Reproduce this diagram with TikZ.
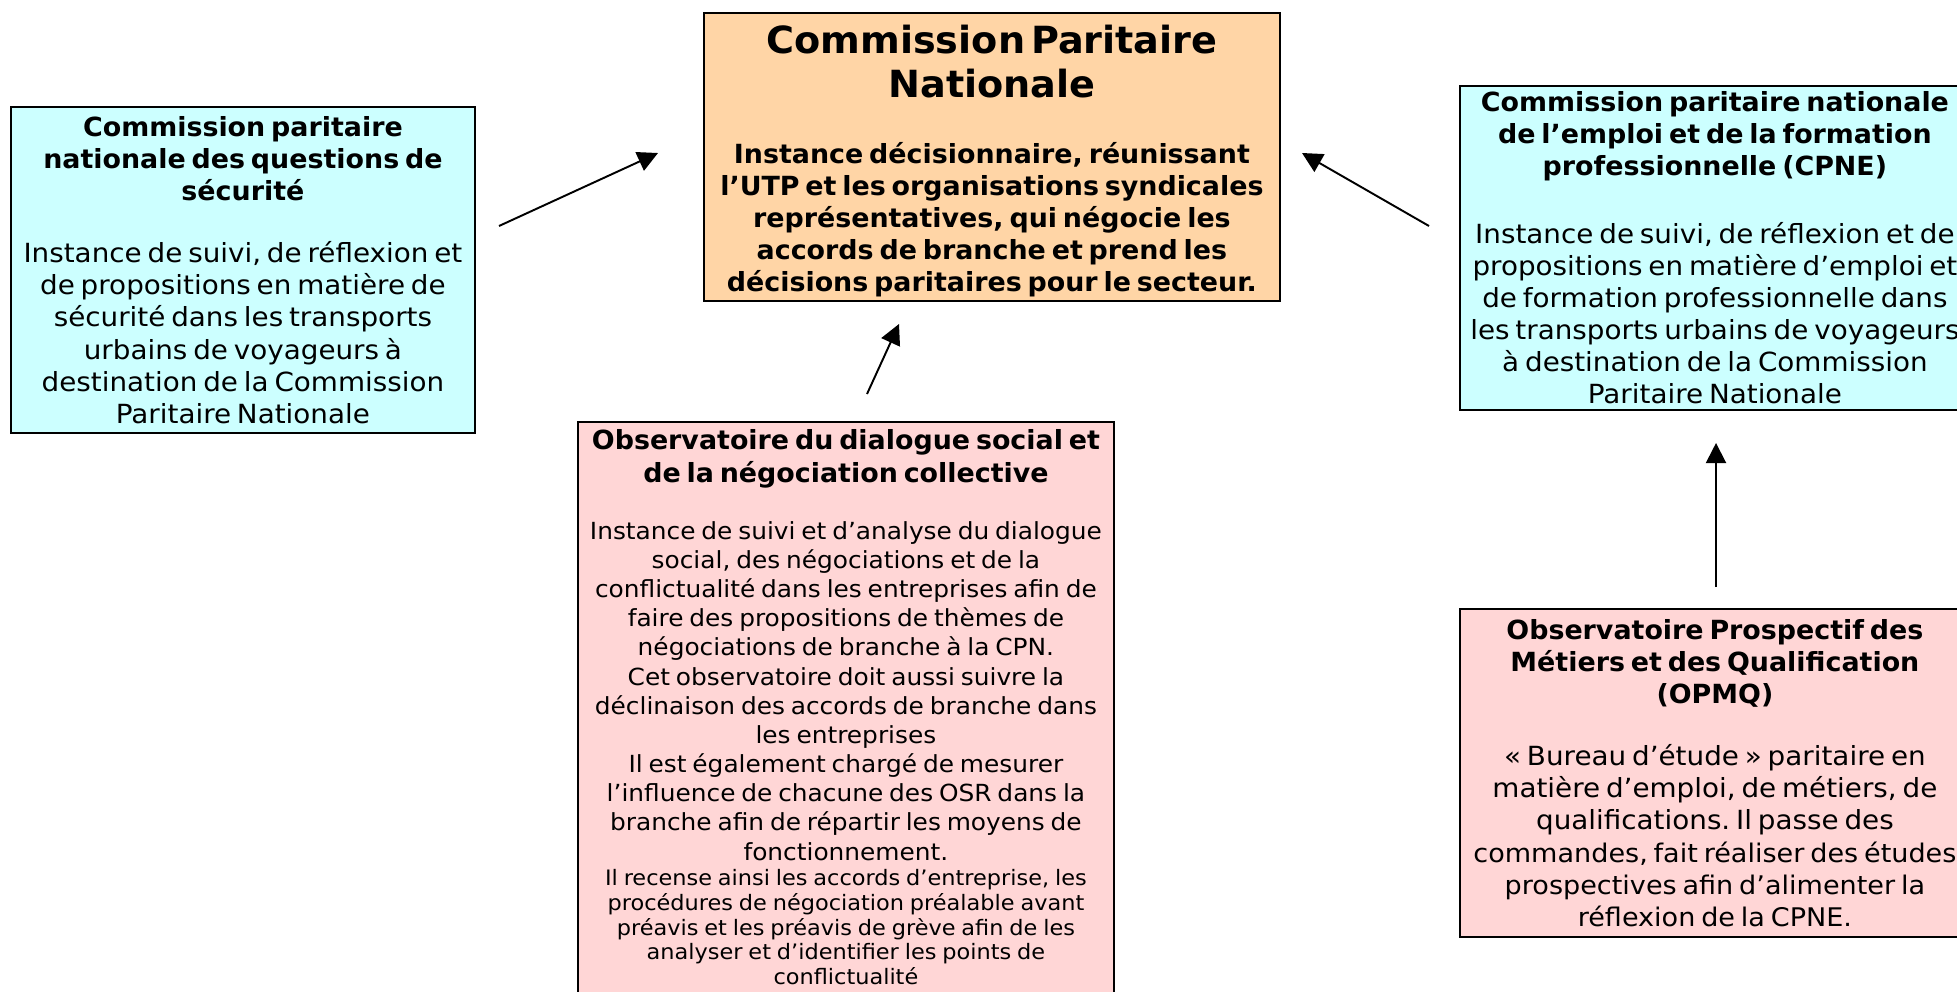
\documentclass[tikz,border=0pt]{standalone}
\usepackage{fontspec}
\setmainfont{DejaVu Sans}[UprightFeatures={FakeStretch=1.055}, BoldFeatures={FakeStretch=1.02}]
\usetikzlibrary{shapes}
\usetikzlibrary{arrows.meta}

\setlength{\parindent}{0pt}
\frenchspacing
\definecolor{cyanclair}{HTML}{CCFFFF}
\definecolor{peche}{HTML}{FFD5A6}
\definecolor{roseclair}{HTML}{FFD6D6}

\newcommand{\titrebox}{\fontsize{15}{18.3}\selectfont\bfseries}
\newcommand{\corpsbox}{\fontsize{15}{18.3}\selectfont\mdseries}
\newcommand{\grandtitre}{\fontsize{21.3}{25}\selectfont\bfseries}
\newcommand{\corpsobs}{\fontsize{13.4}{16.6}\selectfont\mdseries}
\newcommand{\petitobs}{\fontsize{12.1}{14.2}\selectfont\mdseries}

\tikzset{
  boite/.style={draw=black, line width=1.1pt, align=center, inner xsep=0pt, inner ysep=0pt, anchor=north west},
  fleche/.style={-{Triangle[length=11.5pt,width=11.5pt]}, line width=1.1pt},
}

\begin{document}
\begin{tikzpicture}[x=0.02cm,y=-0.02cm]
    \fill[white] (0,0) rectangle (1957,991);
    \useasboundingbox (0,0) rectangle (1957,991);

    % commission securite
    \node[boite, fill=cyanclair, text width=9.28cm, minimum height=6.52cm] (secu) at (10,106)
      {{\titrebox Commission paritaire\\ nationale des questions de\\ sécurité\par}\vspace{17pt}
       {\corpsbox Instance de suivi, de réflexion et\\ de propositions en matière de\\ sécurité dans les transports\\ urbains de voyageurs à\\ destination de la Commission\\ Paritaire Nationale\par}};

    % CPN
    \node[boite, fill=peche, text width=11.52cm, minimum height=5.76cm] (cpn) at (703,12)
      {{\grandtitre \rule{0pt}{21pt}Commission Paritaire\\ Nationale\par}\vspace{19pt}
       {\titrebox Instance décisionnaire, réunissant\\ l’UTP et les organisations syndicales\\ représentatives, qui négocie les\\ accords de branche et prend les\\ décisions paritaires pour le secteur.\par}};

    % CPNE
    \node[boite, fill=cyanclair, text width=10.2cm, minimum height=6.48cm] (cpne) at (1459,85)
      {{\titrebox Commission paritaire nationale\\ de l’emploi et de la formation\\ professionnelle (CPNE)\par}\vspace{20pt}
       {\corpsbox Instance de suivi, de réflexion et de\\ propositions en matière d’emploi et\\ de formation professionnelle dans\\ les transports urbains de voyageurs\\ à destination de la Commission\\ Paritaire Nationale\par}};

    % observatoire dialogue social
    \node[boite, fill=roseclair, text width=10.72cm, inner ysep=4.5pt] (obs) at (577,421)
      {{\titrebox Observatoire du dialogue social et\\ de la négociation collective\par}\vspace{16pt}
       {\corpsobs Instance de suivi et d’analyse du dialogue\\ social, des négociations et de la\\ conflictualité dans les entreprises afin de\\ faire des propositions de thèmes de\\ négociations de branche à la CPN.\\ Cet observatoire doit aussi suivre la\\ déclinaison des accords de branche dans\\ les entreprises\\ Il est également chargé de mesurer\\ l’influence de chacune des OSR dans la\\ branche afin de répartir les moyens de\\ fonctionnement.\par}
       {\petitobs Il recense ainsi les accords d’entreprise, les\\ procédures de négociation préalable avant\\ préavis et les préavis de grève afin de les\\ analyser et d’identifier les points de\\ conflictualité\par}};

    % OPMQ
    \node[boite, fill=roseclair, text width=10.2cm, minimum height=6.56cm] (opmq) at (1459,608)
      {{\titrebox Observatoire Prospectif des\\ Métiers et des Qualification\\ (OPMQ)\par}\vspace{17pt}
       {\corpsbox « Bureau d’étude » paritaire en\\ matière d’emploi, de métiers, de\\ qualifications. Il passe des\\ \fontsize{14.6}{18.3}\selectfont commandes, fait réaliser des études\\ prospectives afin d’alimenter la\\ réflexion de la CPNE.\par}};

    \coordinate (secu-d) at (499,226);
    \coordinate (cpn-g) at (658,153);
    \coordinate (cpne-d) at (1429,226);
    \coordinate (cpn-dr) at (1302,153);
    \coordinate (obs-d) at (867,394);
    \coordinate (cpn-b) at (899,324);
    \coordinate (opmq-d) at (1716,587);
    \coordinate (cpne-b) at (1716,443);

    \draw[fleche] (secu-d) -- (cpn-g);
    \draw[fleche] (cpne-d) -- (cpn-dr);
    \draw[fleche] (obs-d) -- (cpn-b);
    \draw[fleche] (opmq-d) -- (cpne-b);
\end{tikzpicture}
\end{document}
